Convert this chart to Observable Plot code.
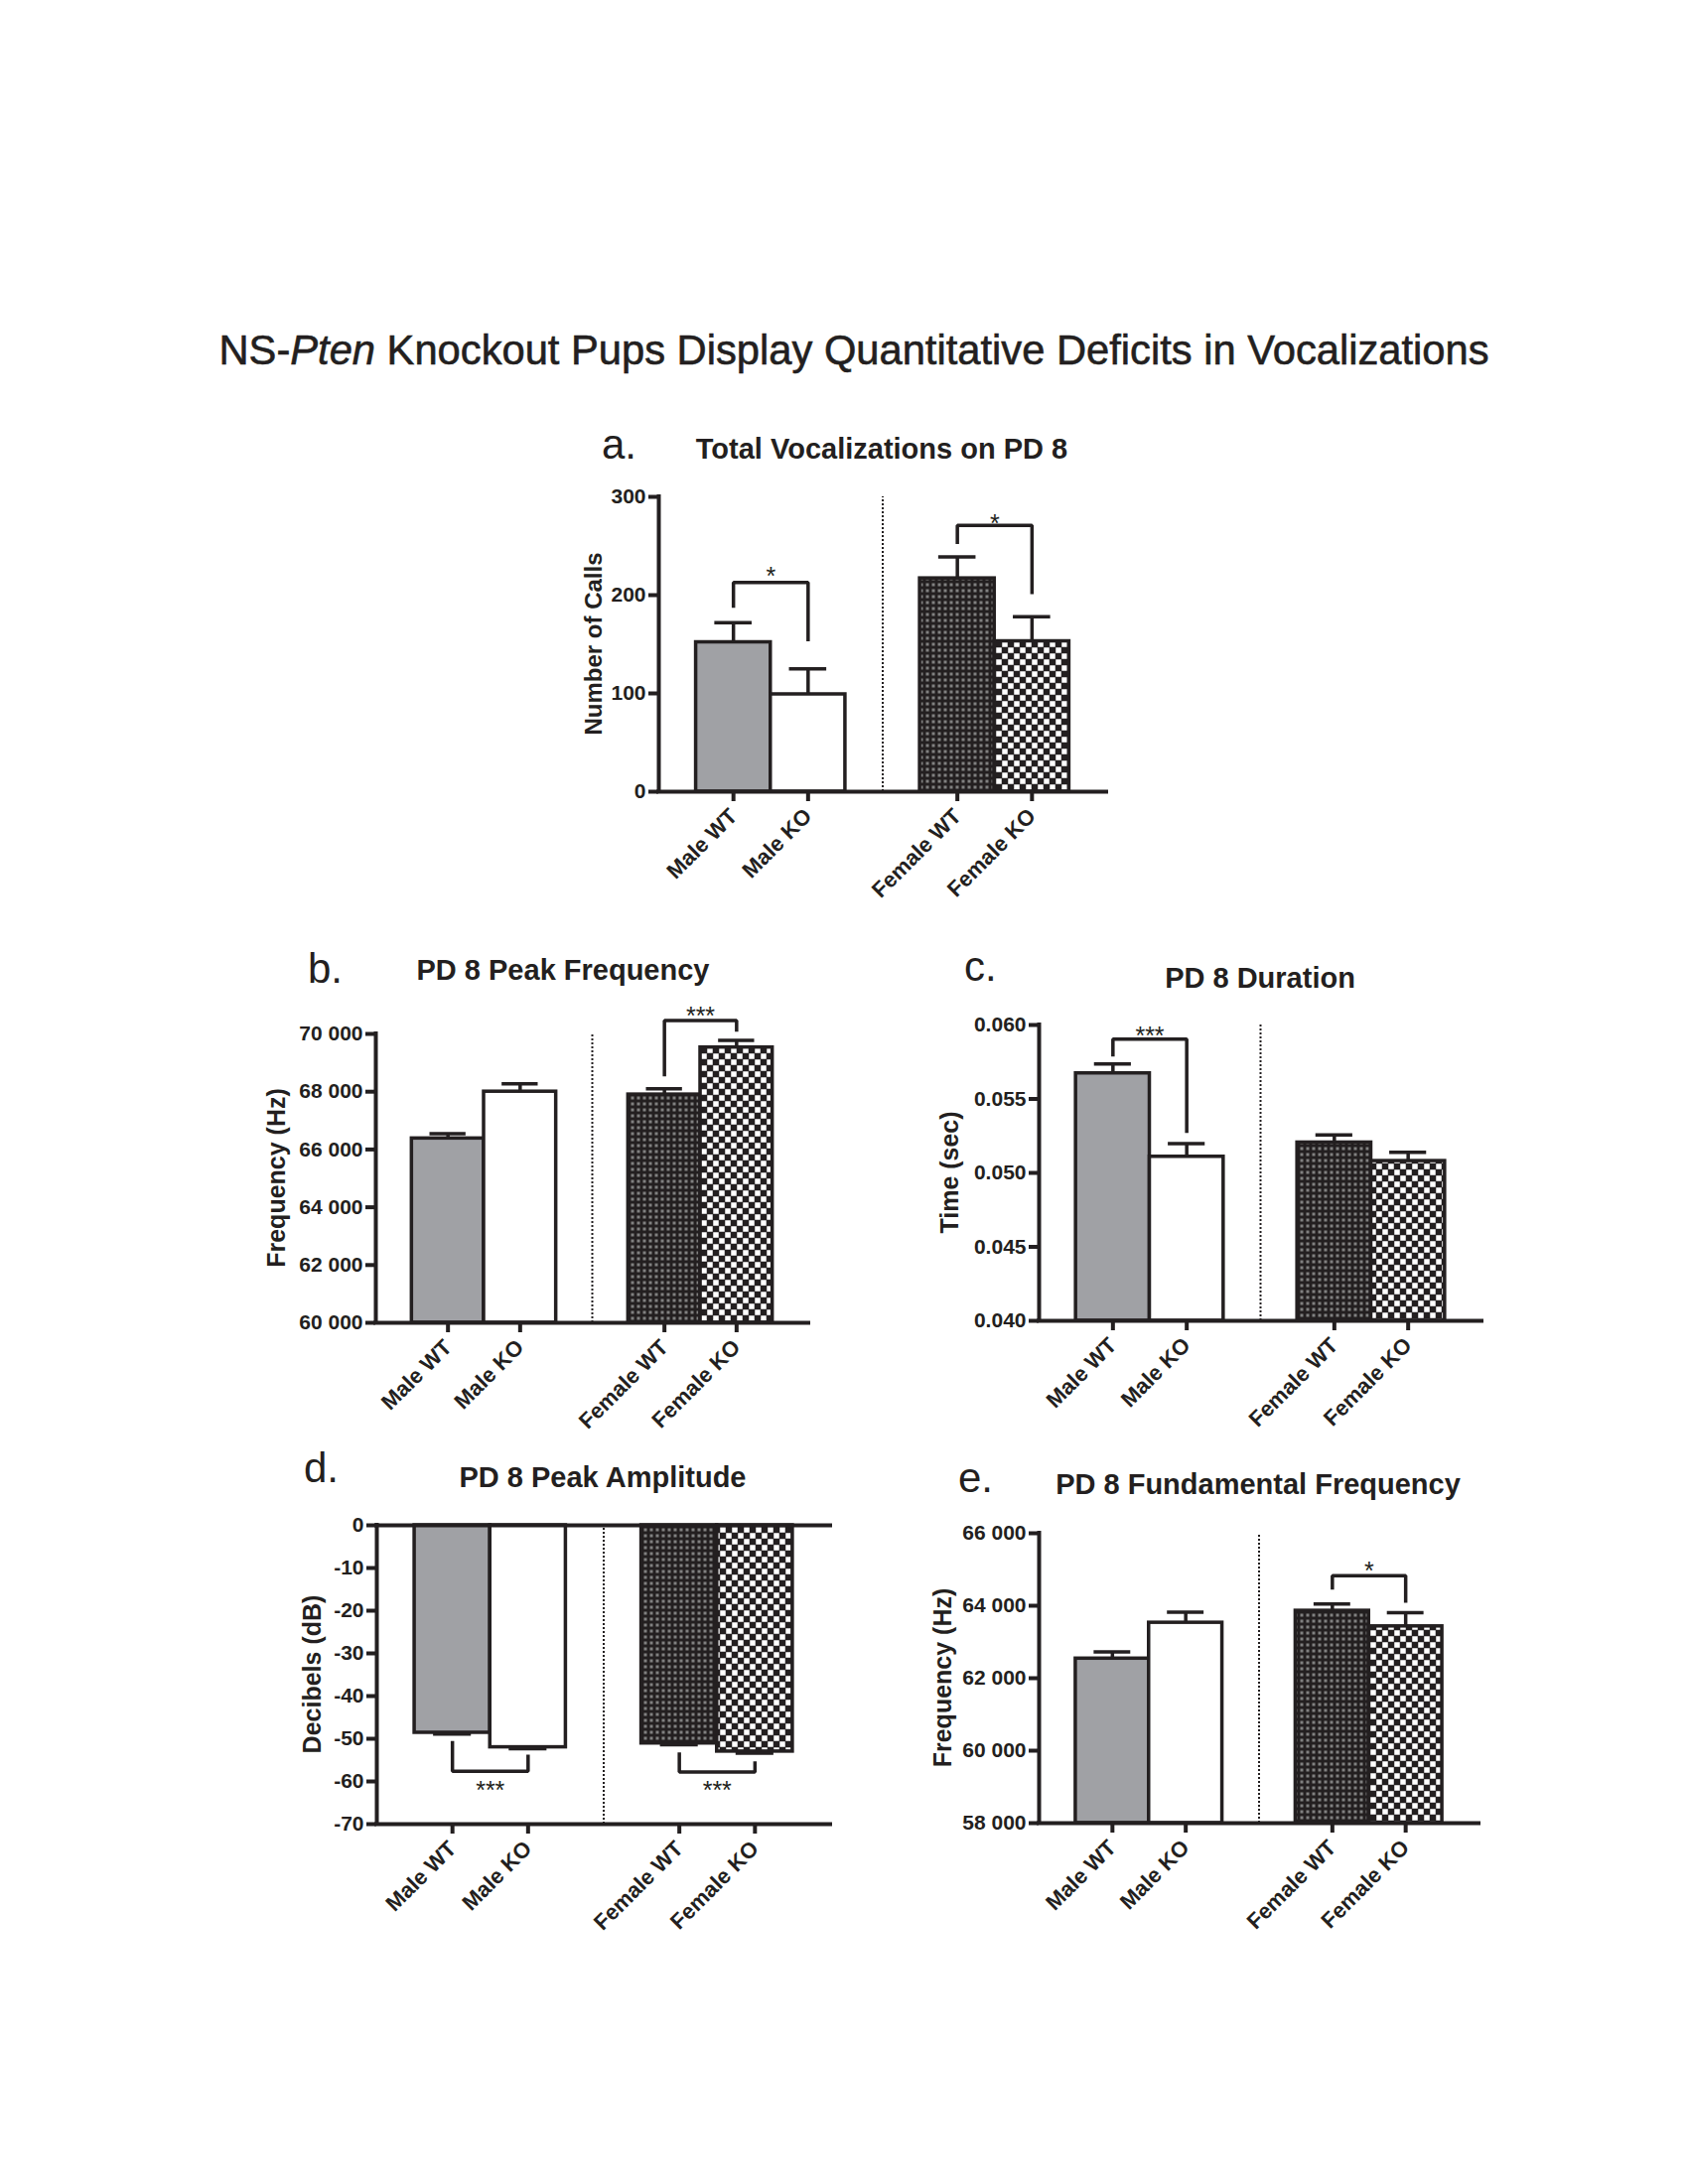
<!DOCTYPE html>
<html><head><meta charset="utf-8">
<script src="https://cdn.jsdelivr.net/npm/d3@7"></script>
<script src="https://cdn.jsdelivr.net/npm/@observablehq/plot@0.6"></script>
<style>
html,body{margin:0;padding:0;background:#fff;}
#page{position:relative;width:1700px;height:2200px;background:#fff;overflow:hidden;}
.panel{position:absolute;}
#overlay{position:absolute;left:0;top:0;pointer-events:none;z-index:5;}
</style></head><body><div id="page"></div>
<script>
// ---------------- data ----------------
const groups = ["Male WT", "Male KO", "Female WT", "Female KO"];
const slots = ["Male WT", "Male KO", "", "Female WT", "Female KO"];

const callsMean = [152, 99, 217, 153];
const callsSem = [20, 26, 22, 25];
const callsTicks = [0, 100, 200, 300];

const peakMean = [66380, 68000, 67900, 69530];
const peakSem = [170, 270, 200, 250];
const peakTicks = [60000, 62000, 64000, 66000, 68000, 70000];

const durMean = [0.05673, 0.05109, 0.05205, 0.05080];
const durSem = [0.00063, 0.00089, 0.00052, 0.00060];
const durTicks = [0.040, 0.045, 0.050, 0.055, 0.060];

const ampMean = [-48.6, -52.0, -51.1, -53.0];
const ampSem = [0.3, 0.3, 0.3, 0.4];
const ampTicks = [0, -10, -20, -30, -40, -50, -60, -70];

const fundMean = [62540, 63530, 63860, 63430];
const fundSem = [185, 290, 190, 375];
const fundTicks = [58000, 60000, 62000, 64000, 66000];

const sigCalls = [
  {from: "Male WT", to: "Male KO", bar: 213, legFrom: 187, legTo: 153, label: "*", labelAt: 226},
  {from: "Female WT", to: "Female KO", bar: 271, legFrom: 252, legTo: 201, label: "*", labelAt: 279}
];
const sigPeak = [{from: "Female WT", to: "Female KO", bar: 70460, legFrom: 68530, legTo: 70080, label: "***", labelAt: 70830}];
const sigDur = [{from: "Male WT", to: "Male KO", bar: 0.05904, legFrom: 0.05787, legTo: 0.05270, label: "***", labelAt: 0.05971}];
const sigAmp = [
  {from: "Male WT", to: "Male KO", bar: -57.6, legFrom: -50.5, legTo: -53.7, label: "***", labelAt: -60.6},
  {from: "Female WT", to: "Female KO", bar: -57.8, legFrom: -53.2, legTo: -55.3, label: "***", labelAt: -60.6}
];
const sigFund = [{from: "Female WT", to: "Female KO", bar: 64830, legFrom: 64446, legTo: 64080, label: "*", labelAt: 65150}];

// ---------------- style ----------------
const FONT = "'Liberation Sans', Arial, Helvetica, sans-serif";
const INK = "#231f20";
const fills = {"Male WT": "#a0a1a5", "Male KO": "#ffffff", "Female WT": "url(#patFWT)", "Female KO": "url(#patFKO)"};
const BAR_SW = 3.5, AXIS_SW = 4;

const page = document.getElementById("page");

// pattern defs
const defs = d3.select(page).append("svg").attr("width", 0).attr("height", 0)
  .style("position", "absolute").append("defs");
const p1 = defs.append("pattern").attr("id", "patFWT").attr("patternUnits", "userSpaceOnUse").attr("width", 6).attr("height", 6);
p1.append("rect").attr("width", 6).attr("height", 6).attr("fill", INK);
p1.append("rect").attr("x", 1.5).attr("y", 1.5).attr("width", 3).attr("height", 3).attr("fill", "#808080");
const p2 = defs.append("pattern").attr("id", "patFKO").attr("patternUnits", "userSpaceOnUse").attr("width", 12).attr("height", 12);
p2.append("rect").attr("width", 12).attr("height", 12).attr("fill", INK);
p2.append("rect").attr("x", 0.25).attr("y", 0.25).attr("width", 5.5).attr("height", 5.5).attr("fill", "#fff");
p2.append("rect").attr("x", 6.25).attr("y", 6.25).attr("width", 5.5).attr("height", 5.5).attr("fill", "#fff");

const spaceFmt = v => d3.format(",")(v).replace(/,/g, " ");

function panel(cfg) {
  const {frame, mean, sem, yDomain, yTicks, fmt, sig, base, zeroLine} = cfg;
  const ml = 110, mr = 20, mt = 70, mb = 170;
  const W = frame.right - frame.left, H = frame.bottom - frame.top;
  const rows = groups.map((g, k) => ({g, i: slots.indexOf(g), v: mean[k], e: mean[k] + Math.sign(mean[k]) * sem[k]}));
  const pts = [];
  sig.forEach((s, k) => {
    const a = slots.indexOf(s.from), b = slots.indexOf(s.to);
    pts.push({k, x: a, y: s.legFrom}, {k, x: a, y: s.bar}, {k, x: b, y: s.bar}, {k, x: b, y: s.legTo});
  });
  const marks = [
    Plot.rectY(rows, {x1: d => d.i - 0.5, x2: d => d.i + 0.5, y1: () => base, y2: "v", fill: d => fills[d.g], stroke: INK, strokeWidth: BAR_SW}),
    Plot.ruleX(rows, {x: "i", y1: "v", y2: "e", stroke: INK, strokeWidth: BAR_SW}),
    Plot.ruleY(rows, {y: "e", x1: d => d.i - 0.25, x2: d => d.i + 0.25, stroke: INK, strokeWidth: BAR_SW}),
    Plot.ruleX([slots.indexOf("")], {y1: yDomain[0], y2: yDomain[1], stroke: INK, strokeWidth: 2, strokeDasharray: "2,2"}),
    Plot.line(pts, {x: "x", y: "y", z: "k", stroke: INK, strokeWidth: BAR_SW, strokeLinejoin: "miter", strokeLinecap: "butt"}),
    Plot.text(sig, {x: d => (slots.indexOf(d.from) + slots.indexOf(d.to)) / 2, y: "labelAt", text: "label", fontSize: 25, fontWeight: "normal", dy: 7, fill: INK}),
    Plot.ruleX([-1], {y1: yDomain[0], y2: yDomain[1], stroke: INK, strokeWidth: AXIS_SW, strokeLinecap: "square"}),
    Plot.ruleY([yDomain[0]], {stroke: INK, strokeWidth: AXIS_SW, strokeLinecap: "square"}),
    Plot.axisY({ticks: yTicks, tickFormat: fmt, tickSize: 10, tickPadding: 3, fontSize: 21, fontWeight: "bold", strokeWidth: AXIS_SW, label: null}),
    Plot.axisX({ticks: [0, 1, 3, 4], tickFormat: i => slots[i], tickSize: 10, tickPadding: 11, tickRotate: -45, fontSize: 22, fontWeight: "bold", strokeWidth: AXIS_SW, label: null, textStroke: null}),
  ];
  if (zeroLine) marks.push(Plot.ruleY([0], {stroke: INK, strokeWidth: AXIS_SW, strokeLinecap: "square"}));
  const svg = Plot.plot({
    width: ml + W + mr, height: mt + H + mb,
    marginLeft: ml, marginRight: mr, marginTop: mt, marginBottom: mb,
    x: {domain: [-1, 5]},
    y: {domain: yDomain},
    color: {type: "identity"},
    style: {fontFamily: FONT, fontWeight: "bold", fontSize: "21px", color: INK, background: "transparent", overflow: "visible"},
    marks
  });
  svg.classList.add("panel");
  svg.style.left = (frame.left - ml) + "px";
  svg.style.top = (frame.top - mt) + "px";
  svg.style.maxWidth = "none";
  page.appendChild(svg);
}

const frames = {
  a: {left: 663, right: 1114, top: 500, bottom: 797},
  b: {left: 378, right: 814, top: 1041, bottom: 1332},
  c: {left: 1046, right: 1492, top: 1032, bottom: 1330},
  d: {left: 379, right: 836, top: 1536, bottom: 1837},
  e: {left: 1046, right: 1489, top: 1544, bottom: 1836}
};

panel({frame: frames.a, mean: callsMean, sem: callsSem, yDomain: [0, 300], yTicks: callsTicks, fmt: d3.format("d"), sig: sigCalls, base: 0});
panel({frame: frames.b, mean: peakMean, sem: peakSem, yDomain: [60000, 70000], yTicks: peakTicks, fmt: spaceFmt, sig: sigPeak, base: 60000});
panel({frame: frames.c, mean: durMean, sem: durSem, yDomain: [0.040, 0.060], yTicks: durTicks, fmt: d3.format(".3f"), sig: sigDur, base: 0.040});
panel({frame: frames.d, mean: ampMean, sem: ampSem, yDomain: [-70, 0], yTicks: ampTicks, fmt: v => String(v), sig: sigAmp, base: 0, zeroLine: true});
panel({frame: frames.e, mean: fundMean, sem: fundSem, yDomain: [58000, 66000], yTicks: fundTicks, fmt: spaceFmt, sig: sigFund, base: 58000});

// ---------------- texts ----------------
const ov = d3.select(page).append("svg").attr("id", "overlay").attr("width", 1700).attr("height", 2200)
  .style("font-family", FONT).attr("fill", INK);
const t = ov.append("text").attr("x", 860).attr("y", 367).attr("text-anchor", "middle").attr("font-size", 41.7)
  .attr("stroke", INK).attr("stroke-width", 0.6);
t.append("tspan").text("NS-");
t.append("tspan").attr("font-style", "italic").text("Pten");
t.append("tspan").text(" Knockout Pups Display Quantitative Deficits in Vocalizations");

const letters = [["a.", 606, 462], ["b.", 310, 990], ["c.", 971, 988], ["d.", 306, 1493], ["e.", 965, 1503]];
letters.forEach(([s, x, y]) => ov.append("text").attr("x", x).attr("y", y).attr("font-size", 42).text(s));

const titles = [
  ["Total Vocalizations on PD 8", 888, 462],
  ["PD 8 Peak Frequency", 567, 987],
  ["PD 8 Duration", 1269, 995],
  ["PD 8 Peak Amplitude", 607, 1498],
  ["PD 8 Fundamental Frequency", 1267, 1505]
];
titles.forEach(([s, x, y]) => ov.append("text").attr("x", x).attr("y", y)
  .attr("text-anchor", "middle").attr("font-size", 29).attr("font-weight", "bold").text(s));

const ylabels = [
  ["Number of Calls", frames.a, 606, 24],
  ["Frequency (Hz)", frames.b, 287, 25],
  ["Time (sec)", frames.c, 965, 25],
  ["Decibels (dB)", frames.d, 323, 25],
  ["Frequency (Hz)", frames.e, 958, 25]
];
ylabels.forEach(([s, f, x, fs]) => {
  const cy = (f.top + f.bottom) / 2;
  ov.append("text").attr("transform", `translate(${x},${cy}) rotate(-90)`)
    .attr("text-anchor", "middle").attr("font-size", fs).attr("font-weight", "bold").text(s);
});
</script></body></html>
